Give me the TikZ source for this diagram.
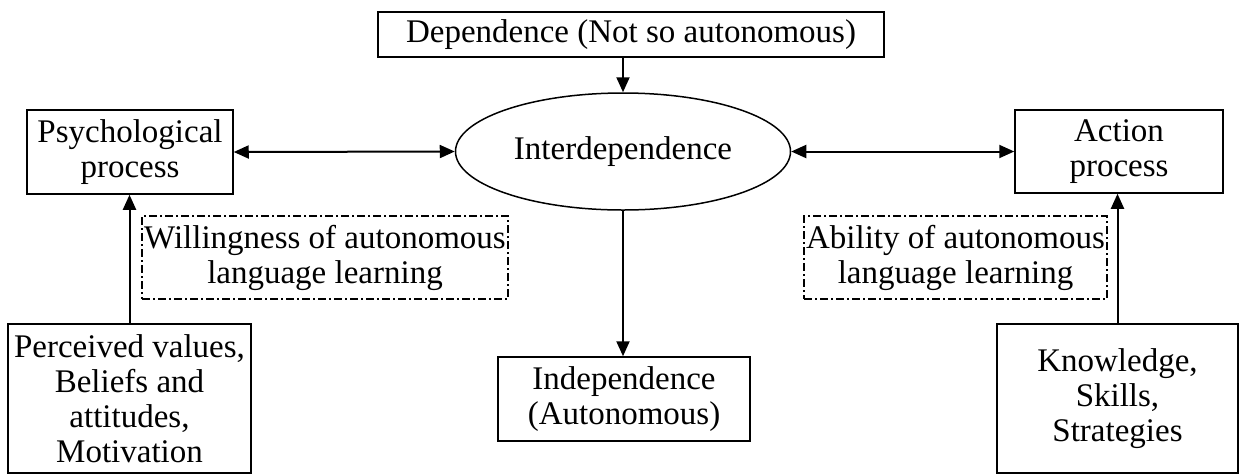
\documentclass[tikz,border=0pt]{standalone}
\usepackage{fontspec}
\setmainfont{Liberation Serif}
\usetikzlibrary{arrows.meta,shapes.geometric}
\tikzset{
  box/.style={draw, line width=1.5pt, inner sep=0pt, align=center, font=\fontsize{33}{35}\selectfont},
  dbox/.style={draw, line width=1.2pt, dash pattern=on 8pt off 3pt on 2pt off 3pt, inner sep=0pt, align=center, font=\fontsize{33}{35}\selectfont},
  arr/.style={line width=2pt, -{Triangle[length=15pt,width=13pt]}},
  darr/.style={line width=2pt, {Triangle[length=15pt,width=13pt]}-{Triangle[length=15pt,width=13pt]}}
}
\begin{document}
\begin{tikzpicture}[x=1pt,y=-1pt]
\useasboundingbox (0,0) rectangle (1239,475);
\node[box, minimum width=506pt, minimum height=45pt] (dep) at (631,34.5) {Dependence (Not so autonomous)};
\node[draw, ellipse, line width=1.5pt, inner sep=0pt, minimum width=335pt, minimum height=117pt, font=\fontsize{33}{35}\selectfont] (ell) at (623,151.5) {Interdependence};
\node[box, minimum width=206pt, minimum height=84pt] (psy) at (130,152) {Psychological\\process};
\node[box, minimum width=208pt, minimum height=83pt] (act) at (1119,151.5) {Action\\process};
\node[box, minimum width=252pt, minimum height=84pt] (ind) at (624,399) {Independence\\(Autonomous)};
\node[box, minimum width=243pt, minimum height=149pt] (per) at (129.5,398.5) {Perceived values,\\Beliefs and\\attitudes,\\Motivation};
\node[box, minimum width=241pt, minimum height=149pt] (kno) at (1117.5,398.5) {Knowledge,\\Skills,\\Strategies};
\node[dbox, minimum width=366pt, minimum height=83pt] (wil) at (325,257.5) {Willingness of autonomous\\language learning};
\node[dbox, minimum width=303pt, minimum height=83pt] (abi) at (955.5,257.5) {Ability of autonomous\\language learning};
\draw[arr] (dep.south -| ell.north) -- (ell.north);
\draw[arr] (ell.south) -- (ind.north -| ell.south);
\draw[darr] (psy.east) -- (ell.west);
\draw[darr] (ell.east) -- (act.west);
\draw[arr] (per.north) -- (psy.south -| per.north);
\draw[arr] (kno.north) -- (act.south -| kno.north);
\end{tikzpicture}
\end{document}
